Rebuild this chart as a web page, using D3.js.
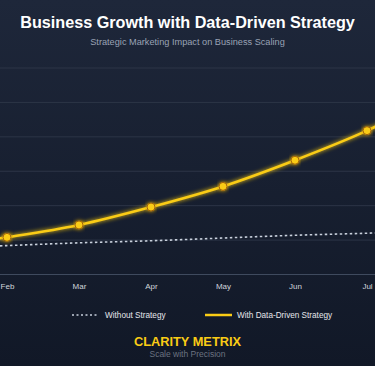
<!DOCTYPE html>
<html><head><meta charset="utf-8">
<script src="https://cdn.jsdelivr.net/npm/d3@7"></script>
<style>
html,body{margin:0;padding:0;background:#141c2c;overflow:hidden;}
svg{display:block;}
</style></head>
<body>
<svg id="chart" width="375" height="366"></svg>
<script>
const months = ["Jan","Feb","Mar","Apr","May","Jun","Jul","Aug"];
const withoutStrategy = [38, 42, 46, 49, 53, 57, 60, 64];
const withStrategy = [39, 54, 72, 98, 128, 166, 209, 262];
const yTicks = [0, 50, 100, 150, 200, 250, 300];
const title = "Business Growth with Data-Driven Strategy";
const subtitle = "Strategic Marketing Impact on Business Scaling";
const legendLabels = ["Without Strategy", "With Data-Driven Strategy"];
const brand = "CLARITY METRIX";
const tagline = "Scale with Precision";

const W = 375, H = 366;
const svg = d3.select("#chart");
const defs = svg.append("defs");
const bg = defs.append("linearGradient").attr("id","bg").attr("x1",0).attr("y1",0).attr("x2",0).attr("y2",1);
bg.append("stop").attr("offset","0%").attr("stop-color","#1e273a");
bg.append("stop").attr("offset","100%").attr("stop-color","#111827");
const glow = defs.append("filter").attr("id","glow").attr("x","-20%").attr("y","-50%").attr("width","140%").attr("height","200%");
glow.append("feGaussianBlur").attr("stdDeviation",2.2).attr("result","b");
const m = glow.append("feMerge");
m.append("feMergeNode").attr("in","b");
m.append("feMergeNode").attr("in","SourceGraphic");

svg.append("rect").attr("width",W).attr("height",H).attr("fill","url(#bg)");

const font = "'Liberation Sans', Arial, Helvetica, sans-serif";

svg.append("text").attr("x",W/2).attr("y",28).attr("text-anchor","middle")
  .attr("font-family",font).attr("font-weight","bold").attr("font-size",16.2)
  .attr("fill","#ffffff").text(title);
svg.append("text").attr("x",W/2).attr("y",45).attr("text-anchor","middle")
  .attr("font-family",font).attr("font-size",9.2)
  .attr("fill","#9aa3b5").text(subtitle);

const x = d3.scalePoint().domain(months).range([-65, 439]);
const y = d3.scaleLinear().domain([0, 300]).range([274.5, 68]);

// grid
svg.append("g").selectAll("line").data(yTicks.slice(1)).join("line")
  .attr("x1",0).attr("x2",W).attr("y1",d=>y(d)).attr("y2",d=>y(d))
  .attr("stroke","#2c3547").attr("stroke-width",1);

// x axis
const xAxis = svg.append("g").attr("transform",`translate(0,${y(0)})`)
  .call(d3.axisBottom(x).tickSize(0).tickPadding(9));
xAxis.select(".domain").attr("stroke","#3f4a5e").attr("stroke-width",1.2).attr("d",`M0,0H${W}`);
xAxis.selectAll("text").attr("font-family",font).attr("font-size",8).attr("fill","#d1d5db");

// without strategy
const line = d3.line().x((d,i)=>x(months[i])).y(d=>y(d)).curve(d3.curveMonotoneX);
svg.append("path").datum(withoutStrategy).attr("d",line)
  .attr("fill","none").attr("stroke","#c8d0dc").attr("stroke-width",1.6)
  .attr("stroke-dasharray","2.5,2.5");

// with strategy
svg.append("path").datum(withStrategy).attr("d",line)
  .attr("fill","none").attr("stroke","#facc15").attr("stroke-width",2.6)
  .attr("filter","url(#glow)");
svg.append("g").selectAll("circle").data(withStrategy).join("circle")
  .attr("cx",(d,i)=>x(months[i])).attr("cy",d=>y(d)).attr("r",4)
  .attr("fill","#facc15").attr("stroke","#a16207").attr("stroke-width",1)
  .attr("filter","url(#glow)");

// legend
const lg = svg.append("g").attr("font-family",font).attr("font-size",8.2).attr("fill","#e5e7eb");
lg.append("line").attr("x1",72).attr("x2",98).attr("y1",315).attr("y2",315)
  .attr("stroke","#c8d0dc").attr("stroke-width",1.3).attr("stroke-dasharray","2,2.5");
lg.append("text").attr("x",105).attr("y",318).text(legendLabels[0]);
lg.append("line").attr("x1",205).attr("x2",232).attr("y1",315).attr("y2",315)
  .attr("stroke","#facc15").attr("stroke-width",2.5);
lg.append("text").attr("x",237).attr("y",318).text(legendLabels[1]);

svg.append("text").attr("x",W/2).attr("y",346).attr("text-anchor","middle")
  .attr("font-family",font).attr("font-weight","bold").attr("font-size",12.8)
  .attr("fill","#facc15").text(brand);
svg.append("text").attr("x",W/2).attr("y",357).attr("text-anchor","middle")
  .attr("font-family",font).attr("font-size",8.5)
  .attr("fill","#6b7280").text(tagline);
</script>
</body></html>
